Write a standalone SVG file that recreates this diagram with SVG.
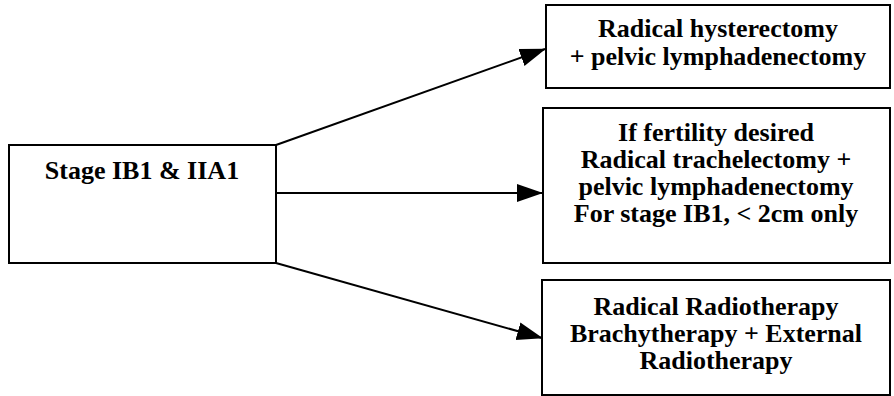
<svg xmlns="http://www.w3.org/2000/svg" width="894" height="396" viewBox="0 0 894 396">
<style>
.box{fill:#fff;stroke:#000;stroke-width:2}
.t{font-family:"Liberation Serif","Times New Roman",serif;font-weight:bold;font-size:26px;fill:#000;text-anchor:middle}
.c{stroke:#000;stroke-width:2;fill:none}
</style>
<defs>
<marker id="ah" markerUnits="userSpaceOnUse" markerWidth="26" markerHeight="20" refX="25" refY="10" orient="auto">
<path d="M0,1 L26,10 L0,19 Z" fill="#000"/>
</marker>
</defs>
<rect width="894" height="396" fill="#fff"/>
<g id="connectors">
<path class="c" d="M276,145 L545,49" marker-end="url(#ah)"/>
<path class="c" d="M276,193 L542,193" marker-end="url(#ah)"/>
<path class="c" d="M276,263 L542,338" marker-end="url(#ah)"/>
</g>
<g id="stage">
<rect class="box" x="9" y="145" width="267" height="118"/>
<text class="t" x="142" y="179">Stage IB1 &amp; IIA1</text>
</g>
<g id="surgery">
<rect class="box" x="546" y="5" width="344" height="83"/>
<text class="t" x="718" y="37">Radical hysterectomy</text>
<text class="t" x="718" y="65">+ pelvic lymphadenectomy</text>
</g>
<g id="fertility">
<rect class="box" x="543" y="108" width="347" height="155"/>
<text class="t" x="716" y="141">If fertility desired</text>
<text class="t" x="716" y="168">Radical trachelectomy +</text>
<text class="t" x="716" y="195">pelvic lymphadenectomy</text>
<text class="t" x="716" y="222">For stage IB1, &lt; 2cm only</text>
</g>
<g id="radiotherapy">
<rect class="box" x="542" y="280" width="348" height="115"/>
<text class="t" x="716" y="315">Radical Radiotherapy</text>
<text class="t" x="716" y="342">Brachytherapy + External</text>
<text class="t" x="716" y="369">Radiotherapy</text>
</g>
</svg>
